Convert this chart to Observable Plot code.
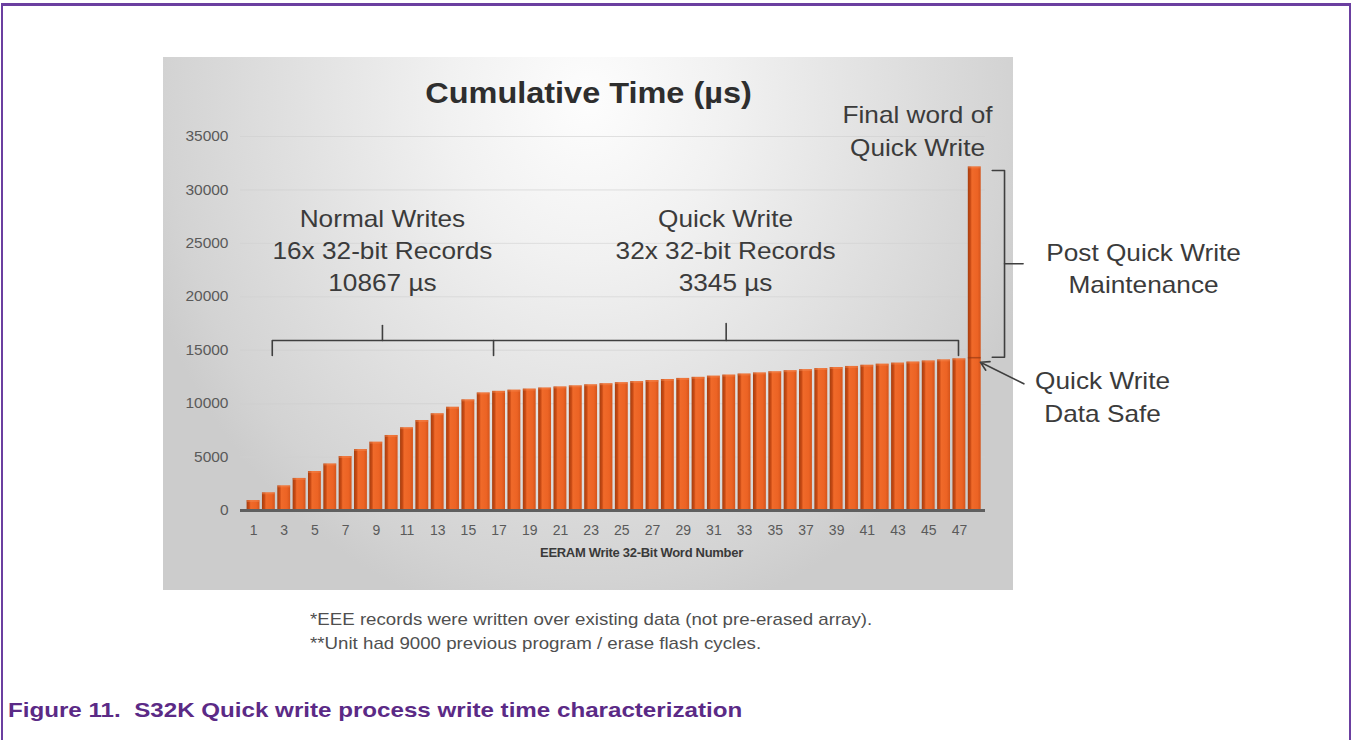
<!DOCTYPE html>
<html><head><meta charset="utf-8">
<script src="https://cdn.jsdelivr.net/npm/d3@7"></script>
<script src="https://cdn.jsdelivr.net/npm/@observablehq/plot@0.6"></script>
<style>
html,body{margin:0;padding:0;background:#fff;width:1352px;height:740px;overflow:hidden;font-family:"Liberation Sans",Arial,sans-serif;}
#frame{position:absolute;left:1px;top:3px;width:1350px;height:800px;border:2px solid #6b3fa0;border-top-width:3px;box-sizing:border-box;}
#bg{position:absolute;left:163px;top:57px;width:850px;height:533px;
 background:radial-gradient(ellipse 55% 100% at 50% 8%, #fdfdfd 0%, #f1f1f1 30%, #e2e2e2 60%, #d3d3d3 90%, #cccccc 100%);}
#chart{position:absolute;left:0;top:0;}
.note{position:absolute;left:310px;font-size:17px;color:#4f4f4f;white-space:nowrap;line-height:24px;transform:scaleX(1.1);transform-origin:0 50%;}
#caption{position:absolute;left:8px;top:697px;font-size:21px;font-weight:bold;color:#5b2a86;white-space:nowrap;line-height:26px;transform:scaleX(1.15);transform-origin:0 50%;}
</style></head>
<body>
<div id="frame"></div>
<div id="bg"></div>
<div id="chart"></div>
<div class="note" id="n1" style="top:608px">*EEE records were written over existing data (not pre-erased array).</div>
<div class="note" id="n2" style="top:632px">**Unit had 9000 previous program / erase flash cycles.</div>
<div id="caption">Figure 11.&nbsp; S32K Quick write process write time characterization</div>
<script>
// ---- data ----
const wordNumber = [1,2,3,4,5,6,7,8,9,10,11,12,13,14,15,16,17,18,19,20,21,22,23,24,25,26,27,28,29,30,31,32,33,34,35,36,37,38,39,40,41,42,43,44,45,46,47,48];
const cumulativeTime = [930,1650,2300,3000,3650,4350,5050,5700,6390,7020,7740,8420,9050,9660,10350,11000,
  11150,11260,11360,11460,11560,11660,11760,11860,11960,12060,12160,12260,12360,12460,12570,12670,
  12770,12870,12980,13080,13180,13280,13380,13480,13590,13690,13790,13890,13990,14090,14190,32150];
const yTickValues = [0,5000,10000,15000,20000,25000,30000,35000];
const xTickLabels = [1,3,5,7,9,11,13,15,17,19,21,23,25,27,29,31,33,35,37,39,41,43,45,47];
const dataSafeWord = [48];
const dataSafeTime = [14300];

const chartTitle = "Cumulative Time (µs)";
const xAxisLabel = "EERAM Write 32-Bit Word Number";
const annotationText = ["Normal Writes\n16x 32-bit Records\n10867 µs", "Quick Write\n32x 32-bit Records\n3345 µs", "Final word of\nQuick Write", "Post Quick Write\nMaintenance", "Quick Write\nData Safe"];
const annotationX = [9.4, 31.76, 44.27, 59.0, 56.33];
const annotationY = [24500, 24500, 35700, 22833, 10808];

// brace polylines (group, x, y) in data units
const braceGroup = ["a","a","a","a","at","at","b","b","b","bt","bt","c","c","c","c","ct","ct"];
const braceX = [2.22,2.22,16.64,16.64, 9.4,9.4, 16.64,46.94,46.94, 31.8,31.8, 49.14,49.94,49.94,49.14, 49.94,51.15];
const braceY = [14505,15909,15909,14505, 15909,17312, 15909,15909,14505, 15909,17499, 31817,31817,14346,14346, 23086,23086];
const arrowFrom = [51.2, 11857];
const arrowTo = [48.37, 13878];

// ---- build tables ----
const bars = wordNumber.map((n,i)=>({n, t: cumulativeTime[i]}));
const annots = annotationText.map((s,i)=>({s, x: annotationX[i], y: annotationY[i]}));
const braces = braceGroup.map((g,i)=>({g, x: braceX[i], y: braceY[i]}));
const safe = dataSafeWord.map((n,i)=>({n, t: dataSafeTime[i]}));
const FONT = "Liberation Sans, Arial, sans-serif";
const halfW = 0.42;

const plot = Plot.plot({
  width: 1352, height: 600,
  marginLeft: 240, marginRight: 367, marginTop: 136, marginBottom: 90,
  x: {type: "linear", domain: [0.15, 48.7], axis: null},
  y: {domain: [0, 35000], axis: null},
  style: {background: "transparent", fontFamily: FONT, overflow: "visible"},
  marks: [
    Plot.ruleY(yTickValues.slice(1), {y: d=>d, stroke: "#cfcfcf", strokeOpacity: 0.6, strokeWidth: 1}),
    Plot.rect(bars, {x1: d=>d.n-halfW, x2: d=>d.n+halfW, y1: 0, y2: "t", fill: "url(#barGrad)"}),
    Plot.rect(bars, {x1: d=>d.n-halfW, x2: d=>d.n+halfW, y1: d=>d.t-180, y2: "t", fill: "#f58a52", fillOpacity: 0.45}),
    Plot.ruleY(safe, {y: "t", x1: d=>d.n-halfW, x2: d=>d.n+halfW, stroke: "#8a3410", strokeOpacity: 0.6, strokeWidth: 1.5}),
    Plot.ruleY([0], {stroke: "#5f5f5f", strokeWidth: 3}),
    Plot.text(yTickValues, {x: 0.15, y: d=>d, text: d=>String(d), textAnchor: "end", dx: -12, fontSize: 14.5, fill: "#5a5a5a"}),
    Plot.text(xTickLabels, {x: d=>d, y: 0, text: d=>String(d), dy: 20, fontSize: 14, fill: "#5a5a5a"}),
    Plot.text([xAxisLabel], {x: 26.28, y: 0, text: d=>d, dy: 42, fontSize: 13, fontWeight: "bold", fill: "#3a3a3a"}),
    Plot.text([chartTitle], {x: 22.83, y: 39023, text: d=>d, fontSize: 29, fontWeight: "bold", fill: "#2e2e2e"}),
    Plot.text(annots, {x: "x", y: "y", text: "s", fontSize: 23, lineHeight: 1.41, fill: "#3b3b3b"}),
    Plot.line(braces, {x: "x", y: "y", z: "g", stroke: "#3f3f3f", strokeWidth: 1.6}),
    Plot.arrow([{a: arrowFrom, b: arrowTo}], {x1: d=>d.a[0], y1: d=>d.a[1], x2: d=>d.b[0], y2: d=>d.b[1], stroke: "#3f3f3f", strokeWidth: 1.6, headLength: 9})
  ]
});

// gradient for 3D-ish bars
const ns = "http://www.w3.org/2000/svg";
const defs = document.createElementNS(ns, "defs");
defs.innerHTML = `<linearGradient id="barGrad" x1="0" y1="0" x2="1" y2="0">
  <stop offset="0" stop-color="#a63e0e"/><stop offset="0.2" stop-color="#c94b15"/>
  <stop offset="0.32" stop-color="#f06a2a"/><stop offset="0.75" stop-color="#ec6324"/>
  <stop offset="1" stop-color="#d4541b"/></linearGradient>`;
plot.insertBefore(defs, plot.firstChild);
document.getElementById("chart").appendChild(plot);

// horizontal widening to mimic the stretched original lettering
const stretch = {"29px": 1.12, "23px": 1.14, "14.5px": 1.07};
plot.querySelectorAll("text").forEach(t => {
  const fs = getComputedStyle(t).fontSize;
  if (t.textContent === xAxisLabel) t.style.letterSpacing = "-0.3px";
  const k = stretch[fs];
  if (k) t.setAttribute("transform", (t.getAttribute("transform") || "") + ` scale(${k},1)`);
});
</script>
</body></html>
